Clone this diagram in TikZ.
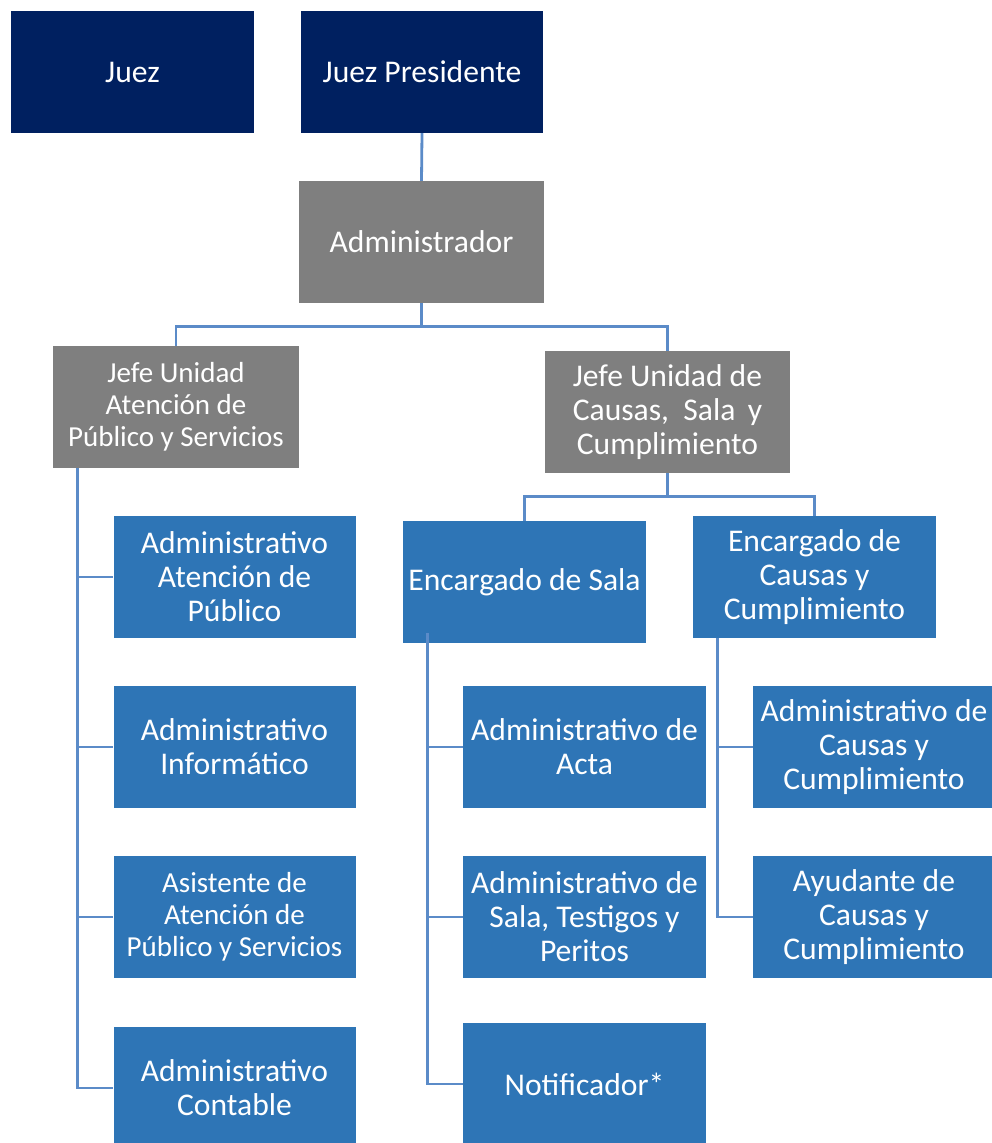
\documentclass[tikz,border=0pt]{standalone}
\usepackage{fontspec}
\setmainfont{Carlito}
\definecolor{navy}{HTML}{002060}
\definecolor{gris}{HTML}{7F7F7F}
\definecolor{azul}{HTML}{2E75B6}
\definecolor{conn}{HTML}{5B8BC8}
\begin{document}
\begin{tikzpicture}[x=1pt,y=-1pt,
  box/.style={rectangle, inner sep=0pt, minimum width=242pt, minimum height=122pt,
    align=center, text=white, font=\fontsize{31.6}{34}\selectfont},
  smalltext/.style={font=\fontsize{29}{32}\selectfont},
  navybox/.style={box, fill=navy},
  grisbox/.style={box, fill=gris},
  azulbox/.style={box, fill=azul},
  link/.style={draw=conn, line width=2.8pt}]
\useasboundingbox (0,0) rectangle (992,1143);
\clip (0,0) rectangle (992,1143);
% nodes
\node[navybox, minimum width=243pt] (juez) at (132.5,72) {Juez};
\node[navybox] (jp) at (422,72) {Juez Presidente};
\node[grisbox, minimum width=245pt] (adm) at (421.5,242) {Administrador};
\node[grisbox, minimum width=246pt, smalltext] (jefeA) at (176,407) {Jefe Unidad\\Atención de\\Público y Servicios};
\node[grisbox, minimum width=245pt] (jefeC) at (667.5,412) {Jefe Unidad de\\Causas,\ \ Sala\, y\\Cumplimiento};
\node[azulbox] (a1) at (234.5,577) {Administrativo\\Atención de\\Público};
\node[azulbox] (a2) at (234.5,747) {Administrativo\\Informático};
\node[azulbox, smalltext] (a3) at (234.5,917) {Asistente de\\Atención de\\Público y Servicios};
\node[azulbox] (a4) at (234.5,1088) {Administrativo\\Contable};
\node[azulbox, minimum width=243pt] (es) at (524.5,582) {Encargado de Sala};
\node[azulbox, minimum width=243pt] (ec) at (814.5,577) {Encargado de\\Causas y\\Cumplimiento};
\node[azulbox, minimum width=243pt] (s1) at (584.5,747) {Administrativo de\\Acta};
\node[azulbox, minimum width=243pt] (s2) at (584.5,917) {Administrativo de\\Sala, Testigos y\\Peritos};
\node[azulbox, minimum width=243pt] (s3) at (584.5,1084) {Notificador*};
\node[azulbox] (c1) at (874,747) {Administrativo de\\Causas y\\Cumplimiento};
\node[azulbox] (c2) at (874,917) {Ayudante de\\Causas y\\Cumplimiento};
% connectors
\draw[link] (jp.south) -- (adm.north);
\coordinate (admj) at ([yshift=-23pt]adm.south);
\draw[link] (adm.south) -- (admj);
\draw[link] (admj) -| (jefeA.north);
\draw[link] (admj) -| (jefeC.north);
\coordinate (jcj) at ([yshift=-23pt]jefeC.south);
\draw[link] (jefeC.south) -- (jcj);
\draw[link] (jcj) -| (es.north);
\draw[link] (jcj) -| (ec.north);
% left branch
\coordinate (ja) at ([xshift=25pt]jefeA.south west);
\draw[link] (ja) |- (a4.west);
\draw[link] (ja |- a1.west) -- (a1.west);
\draw[link] (ja |- a2.west) -- (a2.west);
\draw[link] (ja |- a3.west) -- (a3.west);
% sala branch
\coordinate (esj) at ([xshift=25pt,yshift=10pt]es.south west);
\draw[link] (esj) |- (s3.west);
\draw[link] (esj |- s1.west) -- (s1.west);
\draw[link] (esj |- s2.west) -- (s2.west);
% causas branch
\coordinate (ecj) at ([xshift=25pt]ec.south west);
\draw[link] (ecj) |- (c2.west);
\draw[link] (ecj |- c1.west) -- (c1.west);
\end{tikzpicture}
\end{document}
